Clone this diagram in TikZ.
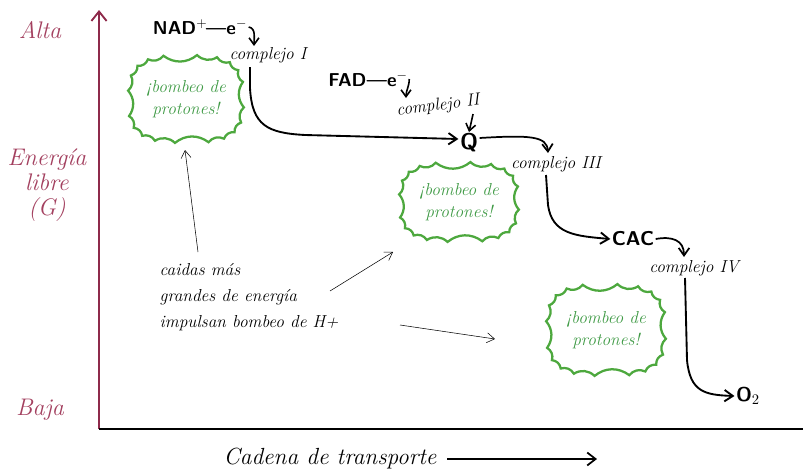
\documentclass[tikz,border=0pt]{standalone}
\usetikzlibrary{arrows.meta,calc}
\definecolor{axisred}{HTML}{8E2A4B}
\definecolor{labred}{HTML}{A3405F}
\definecolor{burstgreen}{HTML}{4DA83E}
\definecolor{textgreen}{HTML}{3F9A45}
\tikzset{
  lab/.style={text=labred, font=\itshape\fontsize{18}{19}\selectfont, align=center},
  chem/.style={font=\sffamily\bfseries\fontsize{14}{16}\selectfont, inner sep=1pt},
  cplx/.style={font=\itshape\fontsize{13}{15}\selectfont, inner sep=1pt},
  flow/.style={line width=1.4pt, -{Straight Barb[length=2.2mm,width=3mm,line width=1.4pt]}},
  note/.style={thin, -{Straight Barb[length=2mm,width=2.6mm]}},
  burstline/.style={draw=burstgreen, line width=1.7pt, line join=miter},
  bursttext/.style={text=textgreen, align=center, inner sep=0pt,
    font=\itshape\fontsize{13}{16}\selectfont}
}
\newcommand\mkburst[3]{%
  \foreach \k in {0,...,19}{%
    \pgfmathsetmacro\bt{4.5+18*\k}%
    \pgfmathsetmacro\bx{#2*cos(\bt)*pow(abs(cos(\bt)),-0.35)}%
    \pgfmathsetmacro\by{#3*sin(\bt)*pow(abs(sin(\bt)),-0.35)}%
    \coordinate (#1-\k) at ($(#1)+(\bx,\by)$);
  }%
  \draw[burstline] (#1-0) \foreach \k in {1,...,19}{ to[bend right=38] (#1-\k)} to[bend right=38] (#1-0) -- cycle;
}
\begin{document}
\begin{tikzpicture}[x=0.75pt,y=-0.75pt]
\useasboundingbox (0,0) rectangle (803,475);
% axes
\coordinate (o) at (99,429);
\coordinate (ytop) at (99,10);
\coordinate (xend) at (803,429);
\draw[axisred, line width=1.6pt, -{Straight Barb[length=2.5mm,width=4mm,line width=1.4pt]}] (o) -- (ytop);
\draw[line width=1.6pt] (o) -- (xend);
\node[lab] (alta) at (40,30) {Alta};
\node[lab] (energia) at (47,185) {Energía\\libre\\(G)};
\node[lab] (baja) at (40,410) {Baja};
\node[font=\itshape\fontsize{17.5}{20}\selectfont] (cadena) at (330,459) {Cadena de transporte};
\coordinate (cadend) at (597,459);
\draw[line width=1.3pt, -{Straight Barb[length=2.2mm,width=3.4mm,line width=1.3pt]}] ($(cadena.east)+(6,0)$) -- (cadend);
% chain nodes
\node[chem] (nad) at (200,27) {NAD$^{+}$\kern-1pt---e$^{-}$};
\node[cplx] (c1) at (268,55) {complejo I};
\node[chem] (fad) at (368,79) {FAD---e$^{-}$};
\node[cplx, rotate=7] (c2) at (438,106) {complejo II};
\node[chem, font=\sffamily\bfseries\fontsize{17}{19}\selectfont] (q) at (469,143) {Q};
\node[cplx] (c3) at (556,164) {complejo III};
\node[chem, font=\sffamily\bfseries\fontsize{15}{17}\selectfont] (cac) at (633,239) {CAC};
\node[cplx] (c4) at (694,268) {complejo IV};
\node[chem, font=\sffamily\bfseries\fontsize{15}{17}\selectfont] (o2) at (748,396) {O$_2$};
% connectors
\coordinate (c1in) at (254,46);
\draw[line width=1.2pt, -{Straight Barb[length=1.8mm,width=2.6mm,line width=1.2pt]}] (nad.east) to[out=-10,in=90] (c1in);
\coordinate (c1out) at (250,67);
\draw[flow] (c1out) -- (250,88) .. controls (252,126) and (268,133) .. (305,135) -- ($(q.west)+(0,-4)$);
\coordinate (c2in) at (406,98);
\draw[line width=1.2pt, -{Straight Barb[length=1.8mm,width=2.6mm,line width=1.2pt]}] (fad.east) to[out=-90,in=90] (c2in);
\draw[line width=1.2pt, -{Straight Barb[length=1.8mm,width=2.6mm,line width=1.2pt]}] ($(c2.south east)+(-9,4)$) -- (q.north);
\coordinate (c3in) at (548,153);
\draw[line width=1.3pt, -{Straight Barb[length=2mm,width=2.8mm,line width=1.3pt]}] ($(q.east)+(0,-5)$) .. controls (530,135) and (547,136) .. (c3in);
\coordinate (c3out) at (546,175);
\draw[flow] (c3out) -- (548,205) .. controls (552,234) and (575,236) .. (cac.west);
\coordinate (c4in) at (684,257);
\draw[line width=1.3pt, -{Straight Barb[length=2mm,width=2.8mm,line width=1.3pt]}] (cac.east) .. controls (672,236) and (684,240) .. (c4in);
\coordinate (c4out) at (685,278);
\draw[flow] (c4out) -- (687,360) .. controls (690,392) and (705,395) .. (o2.west);
% bursts
\node[bursttext] (b1) at (186,99) {¡bombeo de\\protones!};
\mkburst{b1}{58}{44}
\node[bursttext] (b2) at (459,202) {¡bombeo de\\protones!};
\mkburst{b2}{60}{40}
\node[bursttext] (b3) at (606,330) {¡bombeo de\\protones!};
\mkburst{b3}{60}{46}
% annotation
\node[font=\itshape\fontsize{13}{19.5}\selectfont, align=left, anchor=north west] (ann) at (155,259) {caidas más\\grandes de energía\\impulsan bombeo de H+};
\coordinate (a1s) at (198,252);
\coordinate (a1e) at (185,150);
\coordinate (a2s) at (330,291);
\coordinate (a2e) at (393,252);
\coordinate (a3s) at (400,325);
\coordinate (a3e) at (495,339);
\draw[note] (a1s) -- (a1e);
\draw[note] (a2s) -- (a2e);
\draw[note] (a3s) -- (a3e);
\end{tikzpicture}
\end{document}
